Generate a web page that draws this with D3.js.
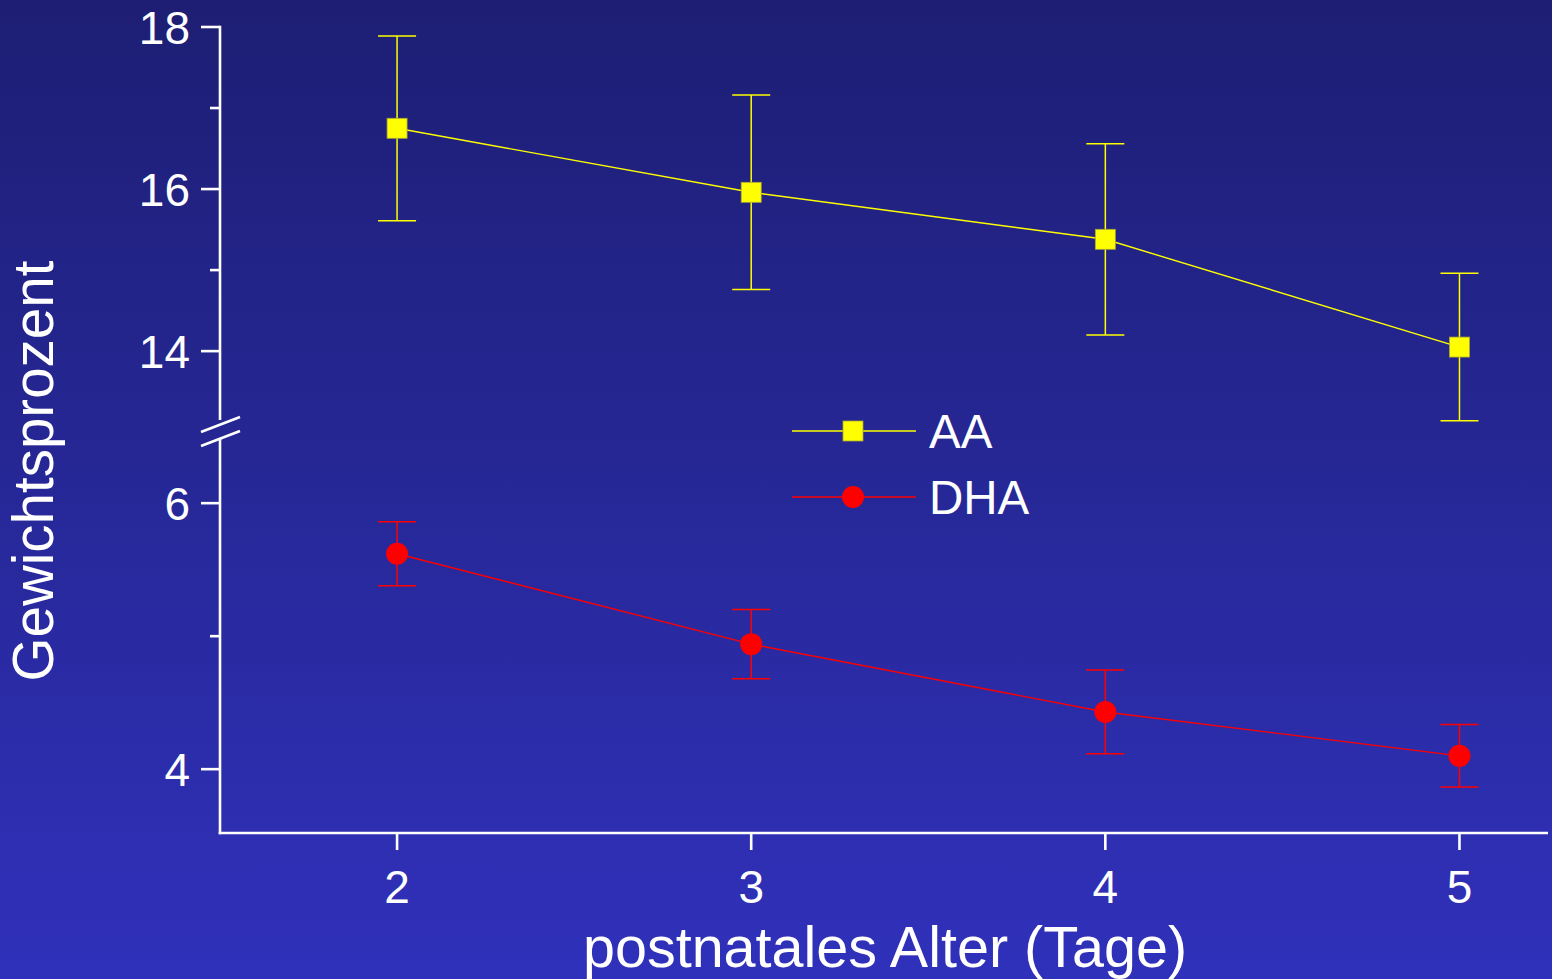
<!DOCTYPE html>
<html>
<head>
<meta charset="utf-8">
<script src="https://cdn.jsdelivr.net/npm/d3@7"></script>
<style>
  html, body { margin: 0; padding: 0; background: #1d1e74; }
  svg { display: block; }
  text { font-family: "Liberation Sans", Arial, sans-serif; fill: #ffffff; }
</style>
</head>
<body>
<svg id="chart" width="1552" height="979"></svg>
<script>
// ---- data ----
const days = [2, 3, 4, 5];
const aaMean = [16.75, 15.96, 15.38, 14.05];
const aaErr  = [1.14, 1.20, 1.18, 0.91];
const dhaMean = [5.62, 4.94, 4.43, 4.10];
const dhaErr  = [0.24, 0.26, 0.315, 0.235];
const xTicks = [2, 3, 4, 5];
const yTopMajor = [14, 16, 18];
const yTopMinor = [15, 17];
const yBotMajor = [4, 6];
const yBotMinor = [5];
const seriesNames = ["AA", "DHA"];
const xTitle = "postnatales Alter (Tage)";
const yTitle = "Gewichtsprozent";

// ---- setup ----
const W = 1552, H = 979;
const svg = d3.select("#chart");

const defs = svg.append("defs");
const grad = defs.append("linearGradient").attr("id", "bg")
  .attr("x1", 0).attr("y1", 0).attr("x2", 0).attr("y2", 1);
grad.append("stop").attr("offset", "0%").attr("stop-color", "#1d1e73");
grad.append("stop").attr("offset", "100%").attr("stop-color", "#3031bb");
svg.append("rect").attr("width", W).attr("height", H).attr("fill", "url(#bg)");

const axisX0 = 220, axisX1 = 1548, axisY = 833;
const x = d3.scaleLinear().domain([1.5, 5.25]).range([axisX0, axisX1]);
const yTop = d3.scaleLinear().domain([13.15, 18]).range([420, 27]);
const yBot = d3.scaleLinear().domain([3.52, 6.49]).range([axisY, 438]);

const white = "#ffffff";
const axisW = 2.6;

// y axis segments
function yAxis(scale, major, minor, extendBottom) {
  const g = svg.append("g");
  const r = scale.range();
  g.append("line").attr("x1", axisX0).attr("x2", axisX0)
    .attr("y1", r[0] + (extendBottom ? axisW / 2 : 0)).attr("y2", r[1] - (extendBottom ? 0 : axisW / 2))
    .attr("stroke", white).attr("stroke-width", axisW);
  major.forEach(v => {
    g.append("line").attr("x1", axisX0 - 19).attr("x2", axisX0)
      .attr("y1", scale(v)).attr("y2", scale(v))
      .attr("stroke", white).attr("stroke-width", axisW);
    g.append("text").attr("x", 190).attr("y", scale(v) + 16.5)
      .attr("text-anchor", "end").attr("font-size", 46).text(v);
  });
  minor.forEach(v => {
    g.append("line").attr("x1", axisX0 - 10).attr("x2", axisX0)
      .attr("y1", scale(v)).attr("y2", scale(v))
      .attr("stroke", white).attr("stroke-width", axisW);
  });
}
yAxis(yTop, yTopMajor, yTopMinor, false);
yAxis(yBot, yBotMajor, yBotMinor, true);

// break marks
[[432, 417], [446, 431]].forEach(([a, b]) => {
  svg.append("line").attr("x1", 201).attr("y1", a).attr("x2", 240).attr("y2", b)
    .attr("stroke", white).attr("stroke-width", 2.6);
});

// x axis
svg.append("line").attr("x1", axisX0 - axisW / 2).attr("x2", axisX1)
  .attr("y1", axisY).attr("y2", axisY)
  .attr("stroke", white).attr("stroke-width", axisW);
xTicks.forEach(v => {
  svg.append("line").attr("x1", x(v)).attr("x2", x(v))
    .attr("y1", axisY).attr("y2", axisY + 17)
    .attr("stroke", white).attr("stroke-width", axisW);
  svg.append("text").attr("x", x(v)).attr("y", 903)
    .attr("text-anchor", "middle").attr("font-size", 46).text(v);
});

// titles
svg.append("text").attr("x", 885).attr("y", 967)
  .attr("text-anchor", "middle").attr("font-size", 57.5).text(xTitle);
svg.append("text").attr("transform", "translate(53,471) rotate(-90)")
  .attr("text-anchor", "middle").attr("font-size", 56.5).text(yTitle);

// series
function drawSeries(means, errs, scale, color, shape) {
  const g = svg.append("g");
  const pts = days.map((d, i) => ({ d, m: means[i], e: errs[i] }));
  g.append("path").datum(pts)
    .attr("d", d3.line().x(p => x(p.d)).y(p => scale(p.m)))
    .attr("fill", "none").attr("stroke", color).attr("stroke-width", 1.4);
  pts.forEach(p => {
    const cx = x(p.d);
    const yt = scale(p.m + p.e), yb = scale(p.m - p.e);
    g.append("line").attr("x1", cx).attr("x2", cx).attr("y1", yt).attr("y2", yb)
      .attr("stroke", color).attr("stroke-width", 1.5);
    [yt, yb].forEach(yy => {
      g.append("line").attr("x1", cx - 19).attr("x2", cx + 19).attr("y1", yy).attr("y2", yy)
        .attr("stroke", color).attr("stroke-width", 1.5);
    });
    drawMarker(g, shape, cx, scale(p.m), color);
  });
}
function drawMarker(g, shape, cx, cy, color) {
  if (shape === "square") {
    g.append("rect").attr("x", cx - 10).attr("y", cy - 10).attr("width", 20).attr("height", 20)
      .attr("fill", color).attr("stroke", "#a8a830").attr("stroke-width", 0.8);
  } else {
    g.append("circle").attr("cx", cx).attr("cy", cy).attr("r", 11).attr("fill", color);
  }
}
drawSeries(aaMean, aaErr, yTop, "#ffff00", "square");
drawSeries(dhaMean, dhaErr, yBot, "#ff0000", "circle");

// legend
const legend = [
  { name: seriesNames[0], color: "#ffff00", shape: "square", y: 431 },
  { name: seriesNames[1], color: "#ff0000", shape: "circle", y: 497 }
];
legend.forEach(l => {
  svg.append("line").attr("x1", 792).attr("x2", 916).attr("y1", l.y).attr("y2", l.y)
    .attr("stroke", l.color).attr("stroke-width", 1.4);
  drawMarker(svg, l.shape, 853, l.y, l.color);
  svg.append("text").attr("x", 929).attr("y", l.y + 16.5).attr("font-size", 47.5).text(l.name);
});
</script>
</body>
</html>
